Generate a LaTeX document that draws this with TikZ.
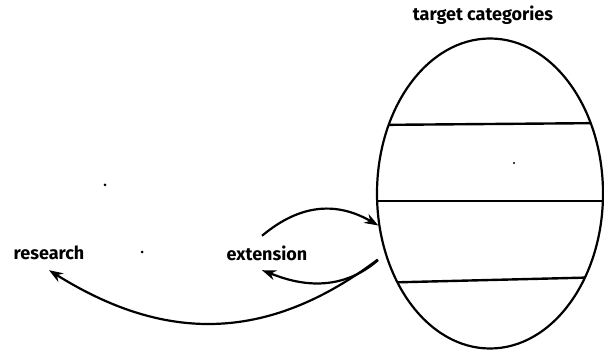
\documentclass[tikz,border=0pt]{standalone}
\usepackage{fontspec}
\setmainfont{Fira Sans}
\usepackage{tikz}
\usetikzlibrary{arrows.meta,shapes.geometric}
\tikzset{
  lbl/.style={font=\bfseries\fontsize{18}{18}\selectfont,inner sep=0pt,minimum height=34pt},
  cat/.style={ellipse,draw=black,line width=2.2pt,minimum width=226pt,minimum height=310pt,inner sep=0pt},
  divider/.style={line width=2.4pt,black},
  flow/.style={-{Stealth[length=14pt,width=10pt]},line width=2.2pt,black},
  speck/.style={black},
}
\begin{document}
\begin{tikzpicture}[x=1pt,y=1pt]
  \useasboundingbox (0,0) rectangle (604,361);
  % target
  \node[cat] (cats) at (490,167.5){};
  \node[lbl] (ttl) at (483,346){target categories};
  \begin{scope}
    \clip (490,167.5) ellipse (113 and 155);
    \draw[divider] (370,236)--(610,238);
    \draw[divider] (370,160)--(610,160);
    \draw[divider] (370,78)--(610,84);
  \end{scope}
  % labels
  \node[lbl] (res) at (49,108){research};
  \node[lbl] (ext) at (267,108){extension};
  % arrows
  \draw[flow] ([xshift=-5pt]ext.north) .. controls +(40:52) and +(150:46) .. (cats.196);
  \draw[flow,shorten <=9pt] (cats.210) .. controls +(221:68) and +(-21:25) .. ([xshift=-5pt]ext.south);
  \draw[flow,shorten <=9pt] (cats.210) .. controls +(217:151) and +(-32:133) .. (res.south);
  % specks
  \fill[speck] (105,176) circle (1.5);
  \fill[speck] (142,109) circle (1.5);
  \fill[speck] (514,198) circle (1.1);
\end{tikzpicture}
\end{document}
